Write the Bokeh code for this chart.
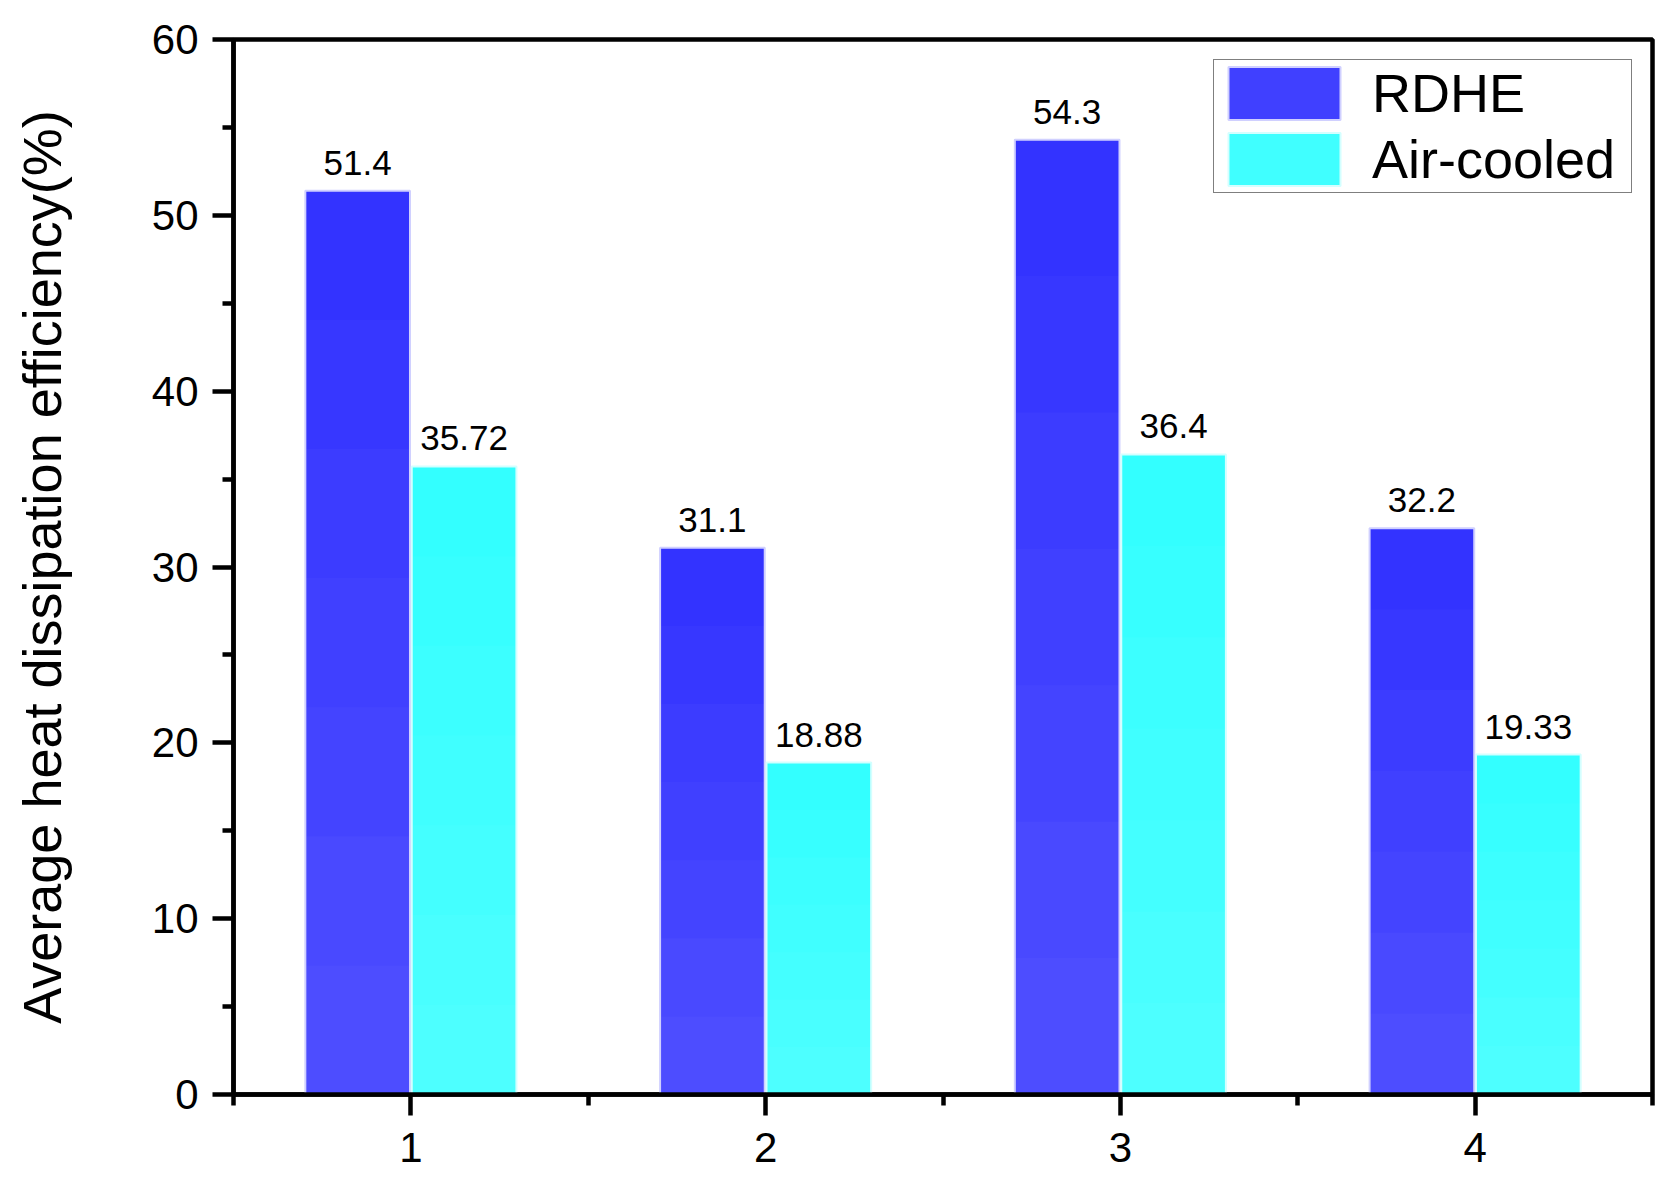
from bokeh.plotting import figure
from bokeh.models import ColumnDataSource, FixedTicker, Range1d, Legend, LegendItem
from bokeh.embed import file_html
from bokeh.resources import INLINE

# ---- data ----
groups = [1, 2, 3, 4]
rdhe = [51.4, 31.1, 54.3, 32.2]
air_cooled = [35.72, 18.88, 36.4, 19.33]
rdhe_labels = ["51.4", "31.1", "54.3", "32.2"]
air_labels = ["35.72", "18.88", "36.4", "19.33"]
series_names = ["RDHE", "Air-cooled"]
y_ticks = [0, 10, 20, 30, 40, 50, 60]
y_title = "Average heat dissipation efficiency(%)"

FONT = "Liberation Sans"
OFF = 0.15
BW = 0.295
NBANDS = 7
W, H = 1663, 1174

p = figure(width=W, height=H, output_backend="svg", toolbar_location=None,
           x_range=Range1d(0.5, 4.5), y_range=Range1d(0, 60),
           min_border_left=233, min_border_right=11, min_border_top=39, min_border_bottom=80)
p.grid.visible = False
p.background_fill_color = "white"
p.border_fill_color = "white"
p.outline_line_color = "black"
p.outline_line_width = 4.5


def gradient_bars(xs, vals, c_top, c_bot, line_color):
    rends = []
    for k in range(NBANDS):
        t = k / (NBANDS - 1)
        col = tuple(int(round(c_bot[i] + (c_top[i] - c_bot[i]) * t)) for i in range(3))
        src = ColumnDataSource(dict(
            x=xs,
            bottom=[v * k / NBANDS for v in vals],
            top=vals))
        r = p.vbar(x="x", bottom="bottom", top="top", width=BW, source=src,
                   fill_color="#%02x%02x%02x" % col, line_color=None)
        rends.append(r)
    osrc = ColumnDataSource(dict(x=xs, top=vals))
    outline = p.vbar(x="x", bottom=0, top="top", width=BW, source=osrc,
                     fill_color=None, line_color=line_color, line_width=2)
    return rends, outline


xr = [g - OFF for g in groups]
xa = [g + OFF for g in groups]
r_bands, r_out = gradient_bars(xr, rdhe, (51, 51, 255), (77, 77, 255), "#d0d0ff")
a_bands, a_out = gradient_bars(xa, air_cooled, (51, 255, 255), (77, 255, 255), "#d4ffff")

lsrc = ColumnDataSource(dict(x=xr + xa, y=rdhe + air_cooled, t=rdhe_labels + air_labels))
p.text(x="x", y="y", text="t", source=lsrc, text_align="center", text_baseline="alphabetic",
       y_offset=-28, text_font_size="35px", text_color="black", text_font={"value": FONT})

# axes
for ax in (p.xaxis[0], p.yaxis[0]):
    ax.axis_line_width = 4.5
    ax.axis_line_color = "black"
    ax.major_tick_line_width = 4.5
    ax.minor_tick_line_width = 4.5
    ax.major_tick_line_color = "black"
    ax.minor_tick_line_color = "black"
    ax.major_tick_in = 0
    ax.minor_tick_in = 0
    ax.major_tick_out = 21
    ax.minor_tick_out = 11
    ax.major_label_text_font = FONT
    ax.major_label_text_font_size = "42px"
    ax.major_label_text_color = "black"

p.xaxis.ticker = FixedTicker(ticks=groups, minor_ticks=[0.5, 1.5, 2.5, 3.5, 4.5])
p.xaxis.major_label_standoff = 17
p.yaxis.ticker = FixedTicker(ticks=y_ticks, minor_ticks=[5, 15, 25, 35, 45, 55])
p.yaxis.major_label_standoff = 14
p.yaxis.axis_label = y_title
p.yaxis.axis_label_text_font = FONT
p.yaxis.axis_label_text_font_size = "54px"
p.yaxis.axis_label_text_font_style = "normal"
p.yaxis.axis_label_text_color = "black"
p.yaxis.axis_label_standoff = 77

legend = Legend(items=[
    LegendItem(label=series_names[0], renderers=[r_bands[3], r_out]),
    LegendItem(label=series_names[1], renderers=[a_bands[3], a_out]),
], location="top_right")
legend.glyph_width = 140
legend.glyph_height = 66
legend.label_height = 60
legend.label_width = 259
legend.label_standoff = 18
legend.spacing = 0
legend.padding = 0
legend.margin = 20
legend.label_text_font = FONT
legend.label_text_font_size = "54px"
legend.label_text_color = "black"
legend.border_line_color = "black"
legend.border_line_width = 1.5
legend.background_fill_alpha = 1.0
p.add_layout(legend)

open("out.html", "w").write(file_html(p, INLINE))
